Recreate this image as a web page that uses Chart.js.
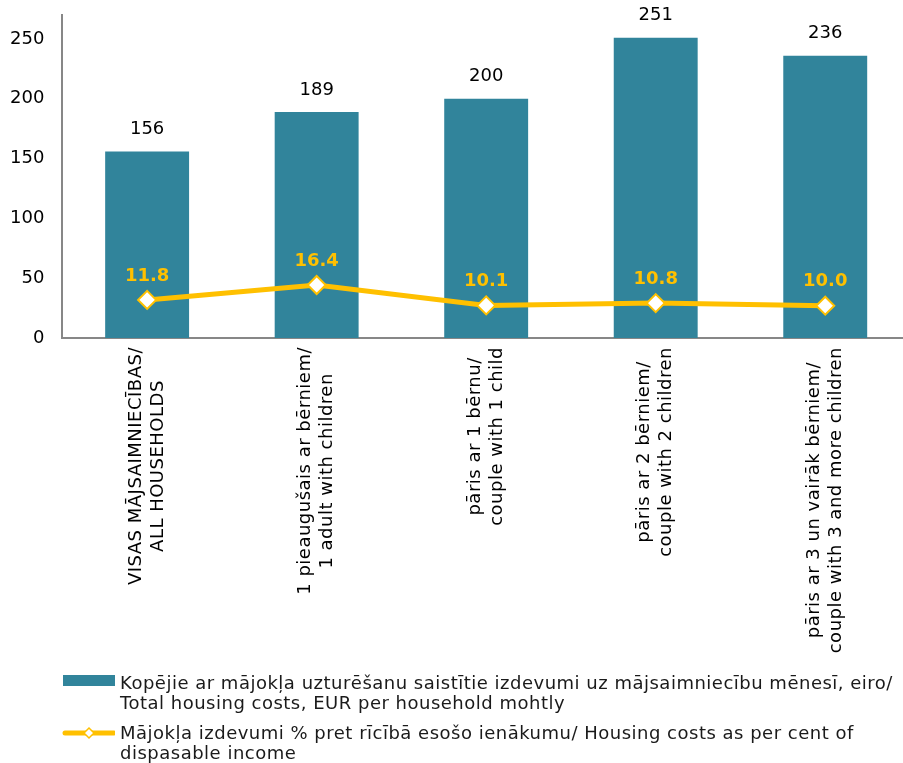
<!DOCTYPE html>
<html>
<head>
<meta charset="utf-8">
<title>Mājokļa izdevumi</title>
<script src="https://cdn.jsdelivr.net/npm/chart.js@4.4.0/dist/chart.umd.min.js"></script>
<style>
    html, body { margin: 0; padding: 0; background: #fff; width: 903px; height: 763px; overflow: hidden; }
    #wrap { position: absolute; left: 0; top: 0; width: 910px; height: 660px; }
    #legend {
        position: absolute; left: 62px; top: 673px;
        font-family: "DejaVu Sans", Verdana, sans-serif; font-size: 18px; letter-spacing: 0.5px; color: #1a1a1a;
    }
    .legend-item { display: flex; align-items: flex-start; line-height: 20px; margin-bottom: 10px; white-space: nowrap; }
    .legend-swatch { flex: none; width: 53px; height: 20px; margin-right: 5px; }
</style>
</head>
<body>
<div id="wrap"><canvas id="chart" width="910" height="660"></canvas></div>
<div id="legend"></div>

<script>
const categories = [
    ['VISAS MĀJSAIMNIECĪBAS/', 'ALL HOUSEHOLDS'],
    ['1 pieaugušais ar bērniem/', '1 adult with children'],
    ['pāris ar 1 bērnu/', 'couple with 1 child'],
    ['pāris ar 2 bērniem/', 'couple with 2 children'],
    ['pāris ar 3 un vairāk bērniem/', 'couple with 3 and more children']
];
const housingCosts = [156, 189, 200, 251, 236];
const costShare = [11.8, 16.4, 10.1, 10.8, 10.0];
const costTicks = [0, 50, 100, 150, 200, 250];
const seriesNames = [
    ['Kopējie ar mājokļa uzturēšanu saistītie izdevumi uz mājsaimniecību mēnesī, eiro/',
     'Total housing costs, EUR per household mohtly'],
    ['Mājokļa izdevumi % pret rīcībā esošo ienākumu/ Housing costs as per cent of',
     'dispasable income']
];

const BAR_COLOR = '#31849b';
const LINE_COLOR = '#ffc000';
const FONT = '"DejaVu Sans", Verdana, sans-serif';

Chart.defaults.font.family = FONT;
Chart.defaults.font.size = 18;
Chart.defaults.color = '#000';

// value labels above bars and above line markers
const valueLabels = {
    id: 'valueLabels',
    afterDatasetsDraw(chart) {
        const ctx = chart.ctx;
        ctx.save();
        ctx.textAlign = 'center';
        ctx.textBaseline = 'middle';
        ctx.font = '18px ' + FONT;
        ctx.fillStyle = '#000';
        chart.getDatasetMeta(0).data.forEach((bar, i) => {
            ctx.fillText(String(housingCosts[i]), bar.x, bar.y - 22);
        });
        ctx.font = 'bold 18px ' + FONT;
        ctx.fillStyle = LINE_COLOR;
        chart.getDatasetMeta(1).data.forEach((pt, i) => {
            ctx.fillText(costShare[i].toFixed(1), pt.x, pt.y - 24);
        });
        ctx.restore();
    }
};

// vertical two-line category labels, lines centred on each other
const categoryLabels = {
    id: 'categoryLabels',
    afterDraw(chart) {
        const xScale = chart.scales.x;
        const ctx = chart.ctx;
        ctx.save();
        ctx.font = '18px ' + FONT;
        ctx.letterSpacing = '0.5px';
        ctx.fillStyle = '#000';
        ctx.textAlign = 'center';
        ctx.textBaseline = 'middle';
        categories.forEach((lines, i) => {
            const w = Math.max(...lines.map(l => ctx.measureText(l).width));
            ctx.save();
            ctx.translate(xScale.getPixelForValue(i), chart.chartArea.bottom + 9 + w / 2);
            ctx.rotate(-Math.PI / 2);
            lines.forEach((l, j) => ctx.fillText(l, 0, (j - (lines.length - 1) / 2) * 22));
            ctx.restore();
        });
        ctx.restore();
    }
};

new Chart(document.getElementById('chart'), {
    type: 'bar',
    data: {
        labels: categories,
        datasets: [{
            type: 'bar',
            label: seriesNames[0].join(' '),
            data: housingCosts,
            backgroundColor: BAR_COLOR,
            barPercentage: 0.495,
            categoryPercentage: 1,
            yAxisID: 'y',
            order: 1
        }, {
            type: 'line',
            label: seriesNames[1].join(' '),
            data: costShare,
            borderColor: LINE_COLOR,
            borderWidth: 5,
            tension: 0,
            pointStyle: 'rectRot',
            pointRadius: 9,
            pointBackgroundColor: '#fff',
            pointBorderColor: LINE_COLOR,
            pointBorderWidth: 2,
            yAxisID: 'y1',
            order: 0
        }]
    },
    options: {
        responsive: false,
        animation: false,
        layout: { autoPadding: false, padding: { left: 10, top: 15, right: 0, bottom: 322 } },
        plugins: {
            legend: { display: false },
            tooltip: { enabled: false }
        },
        scales: {
            x: {
                grid: { display: false, drawTicks: false },
                border: { display: true, color: '#878787', width: 2 },
                ticks: { display: false }
            },
            y: {
                min: 0,
                max: 270,
                afterBuildTicks: s => { s.ticks = costTicks.map(v => ({ value: v })); },
                grid: { display: false, drawTicks: true, tickLength: 18 },
                border: { display: true, color: '#878787', width: 2 },
                ticks: { padding: 0, color: '#000', font: { size: 18 } }
            },
            y1: {
                display: false,
                min: 0,
                max: 100
            }
        }
    },
    plugins: [valueLabels, categoryLabels]
});

// legend below the chart
const legendEl = document.getElementById('legend');
seriesNames.forEach((lines, i) => {
    const item = document.createElement('div');
    item.className = 'legend-item';
    const sw = document.createElement('canvas');
    sw.className = 'legend-swatch';
    sw.width = 53; sw.height = 20;
    const c = sw.getContext('2d');
    if (i === 0) {
        c.fillStyle = BAR_COLOR;
        c.fillRect(1, 2, 52, 11);
    } else {
        c.strokeStyle = LINE_COLOR;
        c.lineWidth = 5;
        c.lineCap = 'round';
        c.beginPath(); c.moveTo(3, 10); c.lineTo(52, 10); c.stroke();
        c.fillStyle = '#fff';
        c.lineWidth = 1.5;
        c.beginPath();
        c.moveTo(27, 5); c.lineTo(32, 10); c.lineTo(27, 15); c.lineTo(22, 10); c.closePath();
        c.fill(); c.stroke();
    }
    const txt = document.createElement('div');
    txt.innerHTML = lines.join('<br>');
    item.appendChild(sw);
    item.appendChild(txt);
    legendEl.appendChild(item);
});
</script>
</body>
</html>
